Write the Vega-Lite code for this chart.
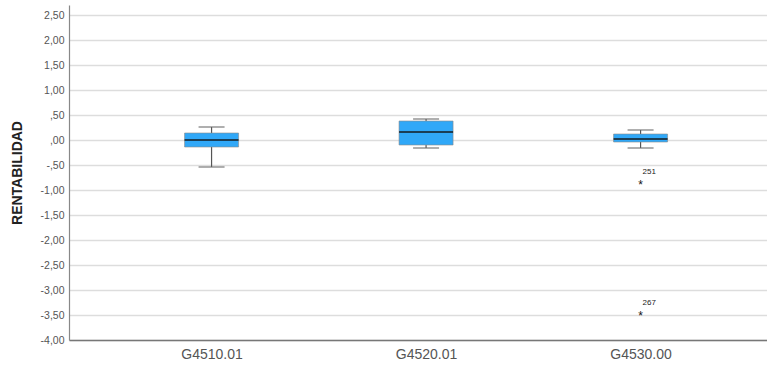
{
  "$schema": "https://vega.github.io/schema/vega-lite/v6.json",
  "width": 698,
  "height": 335,
  "autosize": {"type": "none"},
  "padding": {"left": 69, "top": 5, "right": 0, "bottom": 25},
  "background": "white",
  "config": {
    "view": {"stroke": null},
    "font": "Liberation Sans",
    "axisY": {
      "titleFontSize": 14,
      "titleFontWeight": "bold",
      "titleColor": "#222222",
      "titlePadding": 16,
      "labelOverlap": false,
      "labelFontSize": 10.5,
      "labelColor": "#555555",
      "labelPadding": 5,
      "ticks": false,
      "grid": true,
      "gridColor": "#dddddd",
      "gridWidth": 1.5,
      "domainColor": "#888888",
      "domainWidth": 1.2
    }
  },
  "datasets": {
    "cajas": [
      {"grupo": "G4510.01", "minimo": -0.54, "q1": -0.14, "mediana": 0.0, "q3": 0.14, "maximo": 0.26},
      {"grupo": "G4520.01", "minimo": -0.16, "q1": -0.10, "mediana": 0.16, "q3": 0.38, "maximo": 0.42},
      {"grupo": "G4530.00", "minimo": -0.16, "q1": -0.04, "mediana": 0.02, "q3": 0.12, "maximo": 0.20}
    ],
    "atipicos": [
      {"grupo": "G4530.00", "valor": -0.84, "caso": "251"},
      {"grupo": "G4530.00", "valor": -3.46, "caso": "267"}
    ]
  },
  "encoding": {
    "x": {
      "field": "grupo",
      "type": "nominal",
      "scale": {"type": "point", "padding": 0.627, "align": 0.53},
      "axis": {
        "title": null,
        "ticks": false,
        "grid": false,
        "labelAngle": 0,
        "labelFontSize": 14,
        "labelColor": "#555555",
        "labelPadding": 7,
        "domainColor": "#777777",
        "domainWidth": 1.5
      }
    }
  },
  "layer": [
    {
      "data": {"name": "cajas"},
      "mark": {"type": "rule", "color": "#555555", "strokeWidth": 1.2},
      "encoding": {
        "y": {
          "field": "minimo",
          "type": "quantitative",
          "scale": {"domain": [-4, 2.7], "nice": false, "zero": false},
          "axis": {
            "title": "RENTABILIDAD",
            "values": [-4, -3.5, -3, -2.5, -2, -1.5, -1, -0.5, 0, 0.5, 1, 1.5, 2, 2.5],
            "labelExpr": "(datum.value < 0 ? '-' : '') + (abs(datum.value) < 1 ? ',' + substring(format(abs(datum.value), '.2f'), 2) : replace(format(abs(datum.value), '.2f'), '.', ','))"
          }
        },
        "y2": {"field": "maximo"}
      }
    },
    {
      "data": {"name": "cajas"},
      "mark": {"type": "tick", "color": "#666666", "size": 26, "thickness": 1.5},
      "encoding": {
        "y": {
          "field": "minimo",
          "type": "quantitative",
          "axis": {
            "title": "RENTABILIDAD",
            "values": [-4, -3.5, -3, -2.5, -2, -1.5, -1, -0.5, 0, 0.5, 1, 1.5, 2, 2.5],
            "labelExpr": "(datum.value < 0 ? '-' : '') + (abs(datum.value) < 1 ? ',' + substring(format(abs(datum.value), '.2f'), 2) : replace(format(abs(datum.value), '.2f'), '.', ','))"
          }
        }
      }
    },
    {
      "data": {"name": "cajas"},
      "mark": {"type": "tick", "color": "#666666", "size": 26, "thickness": 1.5},
      "encoding": {
        "y": {
          "field": "maximo",
          "type": "quantitative",
          "axis": {
            "title": "RENTABILIDAD",
            "values": [-4, -3.5, -3, -2.5, -2, -1.5, -1, -0.5, 0, 0.5, 1, 1.5, 2, 2.5],
            "labelExpr": "(datum.value < 0 ? '-' : '') + (abs(datum.value) < 1 ? ',' + substring(format(abs(datum.value), '.2f'), 2) : replace(format(abs(datum.value), '.2f'), '.', ','))"
          }
        }
      }
    },
    {
      "data": {"name": "cajas"},
      "mark": {"type": "bar", "width": 54, "fill": "#30a8f8", "stroke": "#8a8a8a", "strokeWidth": 0.6},
      "encoding": {
        "y": {
          "field": "q1",
          "type": "quantitative",
          "axis": {
            "title": "RENTABILIDAD",
            "values": [-4, -3.5, -3, -2.5, -2, -1.5, -1, -0.5, 0, 0.5, 1, 1.5, 2, 2.5],
            "labelExpr": "(datum.value < 0 ? '-' : '') + (abs(datum.value) < 1 ? ',' + substring(format(abs(datum.value), '.2f'), 2) : replace(format(abs(datum.value), '.2f'), '.', ','))"
          }
        },
        "y2": {"field": "q3"}
      }
    },
    {
      "data": {"name": "cajas"},
      "mark": {"type": "tick", "color": "#111111", "size": 54, "thickness": 2},
      "encoding": {
        "y": {
          "field": "mediana",
          "type": "quantitative",
          "axis": {
            "title": "RENTABILIDAD",
            "values": [-4, -3.5, -3, -2.5, -2, -1.5, -1, -0.5, 0, 0.5, 1, 1.5, 2, 2.5],
            "labelExpr": "(datum.value < 0 ? '-' : '') + (abs(datum.value) < 1 ? ',' + substring(format(abs(datum.value), '.2f'), 2) : replace(format(abs(datum.value), '.2f'), '.', ','))"
          }
        }
      }
    },
    {
      "data": {"name": "atipicos"},
      "mark": {"type": "text", "text": "*", "fontSize": 12, "fill": "#111111", "baseline": "middle", "dy": 3},
      "encoding": {
        "y": {
          "field": "valor",
          "type": "quantitative",
          "axis": {
            "title": "RENTABILIDAD",
            "values": [-4, -3.5, -3, -2.5, -2, -1.5, -1, -0.5, 0, 0.5, 1, 1.5, 2, 2.5],
            "labelExpr": "(datum.value < 0 ? '-' : '') + (abs(datum.value) < 1 ? ',' + substring(format(abs(datum.value), '.2f'), 2) : replace(format(abs(datum.value), '.2f'), '.', ','))"
          }
        }
      }
    },
    {
      "data": {"name": "atipicos"},
      "mark": {"type": "text", "fontSize": 8, "fill": "#222222", "align": "left", "baseline": "middle", "dx": 2, "dy": -10},
      "encoding": {
        "y": {
          "field": "valor",
          "type": "quantitative",
          "axis": {
            "title": "RENTABILIDAD",
            "values": [-4, -3.5, -3, -2.5, -2, -1.5, -1, -0.5, 0, 0.5, 1, 1.5, 2, 2.5],
            "labelExpr": "(datum.value < 0 ? '-' : '') + (abs(datum.value) < 1 ? ',' + substring(format(abs(datum.value), '.2f'), 2) : replace(format(abs(datum.value), '.2f'), '.', ','))"
          }
        },
        "text": {"field": "caso"}
      }
    }
  ]
}
